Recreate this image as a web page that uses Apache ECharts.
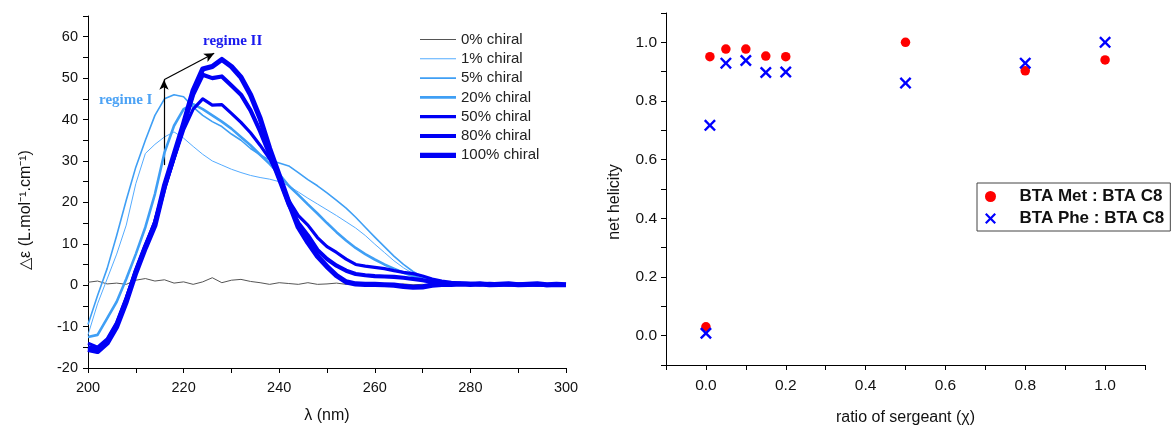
<!DOCTYPE html>
<html>
<head>
<meta charset="utf-8">
<script src="https://cdn.jsdelivr.net/npm/echarts@6/dist/echarts.min.js"></script>
<style>
html,body{margin:0;padding:0;background:#fff;}
#chart{width:1175px;height:425px;}
</style>
</head>
<body>
<div id="chart"></div>
<script>
// ---------- Left panel: CD spectra ----------
const wavelength = [200,202,204,206,208,210,212,214,216,218,220,222,224,226,228,230,232,234,236,238,240,242,244,246,248,250,252,254,256,258,260,262,264,266,268,270,272,274,276,278,280,282,284,286,288,290,292,294,296,298,300];

const chiral0 = [0.7,1.0,0.3,0.5,0.2,1.2,1.6,1.0,1.3,0.5, 0.8,0.2,0.8,1.8,0.6,1.2,1.4,0.9,0.6,0.2, 0.6,0.4,0.2,0.6,0.2,0.3,0.5,0.2,0.4,0.1, 0.3,0.2,0.0,0.3,0.1,0.2,0.0,0.2,0.1,0.0, 0.2,0.1,0.0,0.1,0.2,0.0,0.1,0.0,0.1,0.0,0.1];
const chiral1 = [-12,-4.5,1.5,7.5,14.5,24.5,31.8,34,35.8,37, 35.5,33.5,31.6,30,29,28,27.2,26.5,26,25.6, 25,24,22.5,21,19.6,18.2,16.8,15.3,13.8,12, 9.9,7.9,5.9,4.2,2.8,1.8,1.2,0.8,0.5,0.4, 0.3,0.2,0.3,0.2,0.1,0.2,0.1,0.0,0.1,0.0,0.1];
const chiral5 = [-9.5,-2.5,4,12,20.5,28.5,35,41,45,46, 45.5,43,41,39.5,38.3,36.5,35,33,31.5,30.2, 29.5,28.8,27.2,25.5,24,22.3,20.5,18.6,16.4,14, 11.6,9.3,7,5,3.3,2,1.3,0.8,0.6,0.4, 0.3,0.3,0.2,0.1,0.2,0.1,0.0,0.1,-0.1,0.0,0.0];
const chiral20 = [-12.5,-12,-8,-4,1.5,7.5,14,22,32,38.5, 42.5,43.7,42.5,41,39.5,37.8,35.8,33.8,31.5,29.3, 26.8,24,21.8,19.5,17.3,15,12.8,10.8,9,7.5, 6.2,5,4,3,2.2,1.5,1.0,0.7,0.5,0.4, 0.3,0.2,0.2,0.1,0.2,0.0,0.1,0.0,0.1,-0.1,0.0];
const chiral50 = [-14,-15,-13,-9,-3,3.5,9.5,15.5,23.5,30.5, 37.5,42.5,45,43.5,43.6,41.5,39.3,36.8,33.8,30.5, 26,20.5,16.8,14.5,11.5,9.3,7.9,6.3,5,4.6, 4.3,4,3.5,3.1,2.8,2.2,1.5,1.0,0.7,0.5, 0.4,0.3,0.4,0.2,0.3,0.2,0.3,0.1,0.2,0.1,0.2];
const chiral80 = [-15,-15.5,-13.5,-9.5,-3.5,3.5,9.5,15,23.5,31, 38.5,46,50.8,50,50.4,48.2,46,42.2,37.2,31.5, 25.5,19.5,15,12,8.5,6.3,4.7,3.5,2.7,2.4, 2.2,2.1,2.0,1.8,1.5,1.2,0.8,0.5,0.4,0.3, 0.3,0.2,0.3,0.2,0.1,0.2,0.1,0.2,0.0,0.1,0.1];
const chiral100 = [-15.5,-16,-14,-10,-4,3,9,14.5,24,31.5, 39,47,52.2,52.8,54.5,52.8,50.2,46,40.3,33, 26.5,20,14,10.3,7,4.5,2.3,0.8,0.3,0.2, 0.2,0.1,0.0,-0.3,-0.5,-0.4,0.0,0.2,0.2,0.3, 0.2,0.3,0.1,0.2,0.3,0.1,0.2,0.3,0.1,0.2,0.1];

const spectraNames = ['0% chiral','1% chiral','5% chiral','20% chiral','50% chiral','80% chiral','100% chiral'];

// annotation arrows (data coordinates)
const arrowUp = [[215.9, 29], [215.9, 49.6]];
const arrowDiag = [[215.9, 49.6], [226.4, 56]];

// ---------- Right panel: net helicity ----------
const sergeantRatio = [0, 0.01, 0.05, 0.1, 0.15, 0.2, 0.5, 0.8, 1.0];
const helicityMet = [0.03, 0.951, 0.977, 0.977, 0.953, 0.951, 1.0, 0.903, 0.94];
const helicityPhe = [0.008, 0.717, 0.929, 0.938, 0.897, 0.899, 0.861, 0.929, 1.0];

const seriesNames2 = ['BTA Met : BTA C8', 'BTA Phe : BTA C8'];

// ---------- build ----------
const zip = (xs, ys) => xs.map((x, i) => [x, ys[i]]);
const FONT = '"Liberation Sans", Arial, sans-serif';
const LIGHT = '#3f9ff5';
const BLUE = '#0000f5';

const styles = [
  {color: '#555555', width: 1},
  {color: '#55acff', width: 1},
  {color: LIGHT, width: 1.6},
  {color: LIGHT, width: 2.6},
  {color: BLUE, width: 3.2},
  {color: BLUE, width: 4.2},
  {color: BLUE, width: 5.2}
];
const spectra = [chiral0, chiral1, chiral5, chiral20, chiral50, chiral80, chiral100];

const series = spectra.map((vals, i) => ({
  name: spectraNames[i],
  type: 'line',
  xAxisIndex: 0, yAxisIndex: 0,
  data: zip(wavelength, vals),
  showSymbol: false, symbol: 'none',
  lineStyle: {color: styles[i].color, width: styles[i].width, join: 'round'},
  itemStyle: {color: styles[i].color},
  z: 2 + i,
  animation: false
}));

series[0].markLine = {
  silent: true,
  symbol: ['none', 'arrow'],
  symbolSize: [7, 10],
  label: {show: false},
  lineStyle: {color: '#000', width: 1.2, type: 'solid'},
  data: [
    [{coord: arrowUp[0]}, {coord: arrowUp[1]}],
    [{coord: arrowDiag[0]}, {coord: arrowDiag[1]}]
  ],
  animation: false
};

const crossPath = 'path://M0,1.7 L1.7,0 L6,4.3 L10.3,0 L12,1.7 L7.7,6 L12,10.3 L10.3,12 L6,7.7 L1.7,12 L0,10.3 L4.3,6 Z';

series.push({
  name: seriesNames2[0],
  type: 'scatter',
  xAxisIndex: 1, yAxisIndex: 1,
  data: zip(sergeantRatio, helicityMet),
  symbol: 'circle', symbolSize: 9.5,
  itemStyle: {color: '#ff0000', opacity: 1},
  animation: false, z: 3
});
series.push({
  name: seriesNames2[1],
  type: 'scatter',
  xAxisIndex: 1, yAxisIndex: 1,
  data: zip(sergeantRatio, helicityPhe),
  symbol: crossPath, symbolSize: 12,
  itemStyle: {color: '#0000ff', opacity: 1},
  animation: false, z: 4
});

const axisCommon = {
  axisLine: {show: true, onZero: false, lineStyle: {color: '#000', width: 1}},
  axisTick: {show: true, inside: false, length: 5, lineStyle: {color: '#000', width: 1}},
  splitLine: {show: false},
  nameLocation: 'middle',
  nameTextStyle: {fontFamily: FONT, fontSize: 16, color: '#111'}
};

// legend icon = a horizontal bar as thick as the series line
const legendData = spectraNames.map((n, i) => ({
  name: n,
  icon: 'path://M0,0 L36,0 L36,' + styles[i].width + ' L0,' + styles[i].width + ' Z'
}));

const option = {
  backgroundColor: '#fff',
  animation: false,
  textStyle: {fontFamily: FONT},
  grid: [
    {left: 88, top: 16, width: 478, height: 352, outerBoundsMode: 'none', containLabel: false},
    {left: 666, top: 13, width: 479, height: 352, outerBoundsMode: 'none', containLabel: false}
  ],
  xAxis: [
    Object.assign({}, axisCommon, {
      type: 'value', gridIndex: 0, min: 200, max: 300, interval: 10,
      name: 'λ (nm)', nameGap: 40,
      axisLabel: {fontFamily: FONT, fontSize: 14.5, color: '#111', margin: 12,
        formatter: v => (Math.round(v) % 20 === 0 ? String(Math.round(v)) : '')}
    }),
    Object.assign({}, axisCommon, {
      type: 'value', gridIndex: 1, min: -0.1, max: 1.1, interval: 0.1,
      name: 'ratio of sergeant (χ)', nameGap: 45,
      axisLabel: {fontFamily: FONT, fontSize: 15.5, color: '#111', margin: 13,
        formatter: v => { const k = Math.round(v * 10); return (k >= 0 && k <= 10 && k % 2 === 0) ? (k / 10).toFixed(1) : ''; }}
    })
  ],
  yAxis: [
    Object.assign({}, axisCommon, {
      type: 'value', gridIndex: 0, min: -20, max: 65, interval: 5,
      name: '△ε (L.mol⁻¹.cm⁻¹)', nameGap: 54,
      nameTextStyle: {fontFamily: FONT, fontSize: 16, color: '#111', padding: [0, 36, 0, 0]},
      axisLabel: {fontFamily: FONT, fontSize: 14.5, color: '#111', margin: 10,
        formatter: v => { const r = Math.round(v); return (r % 10 === 0 && r <= 60) ? String(r) : ''; }}
    }),
    Object.assign({}, axisCommon, {
      type: 'value', gridIndex: 1, min: -0.1, max: 1.1, interval: 0.1,
      name: 'net helicity', nameGap: 43,
      nameTextStyle: {fontFamily: FONT, fontSize: 16, color: '#111', padding: [0, 26, 0, 0]},
      axisLabel: {fontFamily: FONT, fontSize: 15.5, color: '#111', margin: 9,
        formatter: v => { const k = Math.round(v * 10); return (k >= 0 && k <= 10 && k % 2 === 0) ? (k / 10).toFixed(1) : ''; }}
    })
  ],
  legend: [
    {
      data: legendData,
      orient: 'vertical',
      left: 420, top: 32,
      itemWidth: 36, itemHeight: 14, itemGap: 4.3,
      padding: 0,
      selectedMode: false,
      textStyle: {fontFamily: FONT, fontSize: 15, color: '#222'}
    },
    {
      data: seriesNames2,
      orient: 'vertical',
      left: 977, top: 183,
      itemWidth: 30, itemHeight: 11, itemGap: 5,
      padding: [5, 6, 4, 8],
      borderColor: '#444', borderWidth: 1,
      selectedMode: false,
      textStyle: {fontFamily: FONT, fontSize: 17, fontWeight: 'bold', color: '#111', padding: [0, 0, 0, 9]}
    }
  ],
  graphic: [
    {type: 'text', left: 99, top: 93, silent: true,
      style: {text: 'regime I', fill: '#4da3f5', font: 'bold 15px "Liberation Serif", "Times New Roman", serif'}},
    {type: 'text', left: 203, top: 34, silent: true,
      style: {text: 'regime II', fill: '#1a1aee', font: 'bold 15px "Liberation Serif", "Times New Roman", serif'}}
  ],
  series: series
};

const chart = echarts.init(document.getElementById('chart'), null, {renderer: 'canvas'});
chart.setOption(option);
</script>
</body>
</html>
